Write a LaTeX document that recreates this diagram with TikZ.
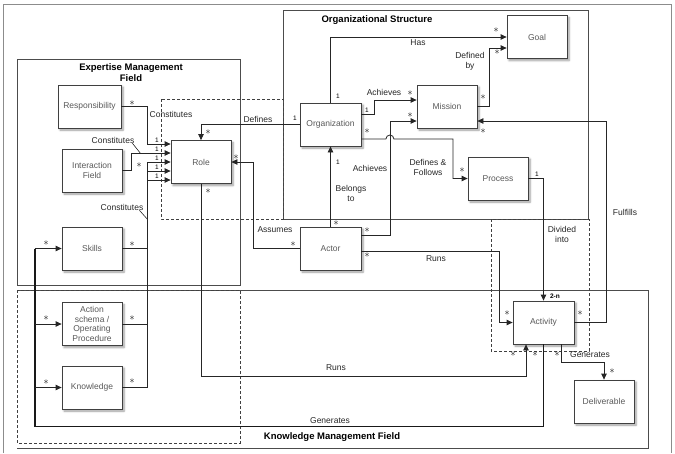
\documentclass[tikz,border=0pt]{standalone}
\usepackage{fontspec}
\setmainfont{Liberation Sans}
\usetikzlibrary{arrows.meta,shadows.blur}
\tikzset{
  entity/.style={draw=black!75, fill=white, line width=0.8pt, minimum width=60pt, minimum height=43pt,
    align=center, inner sep=1pt, text=black!65, font=\fontsize{8.5}{9.5}\selectfont,
    blur shadow={shadow xshift=2pt, shadow yshift=-2pt, shadow blur steps=6}},
  assoc/.style={draw=black!85, line width=0.8pt, -{Triangle[length=6pt,width=5.5pt]}},
  gen/.style={draw=black!90, line width=1.8pt},
  leader/.style={draw=black!85, line width=0.6pt},
  field/.style={draw=black!70, line width=0.9pt},
  group/.style={draw=black!75, line width=0.8pt, dash pattern=on 3pt off 2pt},
  lbl/.style={inner sep=0pt, align=center, text=black!85, font=\fontsize{8.5}{10}\selectfont},
  ttl/.style={inner sep=0pt, align=center, font=\bfseries\fontsize{9.5}{11}\selectfont},
  mult/.style={inner sep=0pt, font=\fontsize{10}{10}\selectfont},
  one/.style={inner sep=0pt, font=\fontsize{6.5}{6.5}\selectfont}
}
\begin{document}
\begin{tikzpicture}[x=1pt, y=-1pt]
\useasboundingbox (0,0) rectangle (675,453);
\draw[draw=black!45, line width=0.8pt] (3,453) -- (3,4) -- (671,4) -- (671,453);
\draw[field] (283,10) rectangle (588,219);
\draw[field] (17,59) rectangle (240,285);
\draw[field] (17,448) -- (648,448) -- (648,290) -- (17,290);
\draw[group] (161,99) rectangle (283,219);
\draw[group] (491,219) rectangle (589,351);
\draw[group] (17,290) rectangle (240,443);
\node[ttl] (torg) at (377,20) {Organizational Structure};
\node[ttl] (temf) at (131,72.5) {Expertise Management\\Field};
\node[ttl] (tkmf) at (332,437) {Knowledge Management Field};

\node[entity, minimum width=63pt] (resp) at (89.5,106.5) {Responsibility};
\node[entity] (inter) at (92,170.5) {Interaction\\Field};
\node[entity] (skills) at (92,248.5) {Skills};
\node[entity] (action) at (92,324) {Action\\schema /\\Operating\\Procedure};
\node[entity] (know) at (92,387.5) {Knowledge};
\node[entity] (role) at (201,162) {Role};
\node[entity, minimum width=61pt] (org) at (330.5,124.5) {Organization};
\node[entity, minimum width=61pt] (actor) at (330.5,248.5) {Actor};
\node[entity] (mission) at (447,106.5) {Mission};
\node[entity] (goal) at (537,37) {Goal};
\node[entity] (process) at (498,178.5) {Process};
\node[entity, minimum width=61pt] (activity) at (543.5,322.5) {Activity};
\node[entity] (deliv) at (604,401.5) {Deliverable};

\draw[assoc] (resp.east) -- ++(26,0) |- ([yshift=18pt]role.west);
\draw[assoc] (inter.east) -- ++(9,0) |- ([yshift=9pt]role.west);
\draw[assoc] (skills.east) -- ++(25,0) |- (role.west);
\draw[assoc] (action.east) -- ++(25,0) |- ([yshift=-9pt]role.west);
\draw[assoc] (know.east) -- ++(25,0) |- ([yshift=-18pt]role.west);
\draw[assoc] (org.west) -| (role.north);
\draw[assoc] (actor.west) -- ++(-46,0) |- (role.east);
\draw[assoc] (actor.north) -- (org.south);
\draw[assoc] ([yshift=13pt]actor.east) -- ++(29,0) |- ([yshift=-14.5pt]mission.west);
\draw[assoc] ([yshift=10.5pt]org.east) -- ++(13,0) |- ([yshift=6.5pt]mission.west);
\draw[assoc] (org.north) |- (goal.west);
\draw[assoc] (mission.east) -- ++(12,0) |- ([yshift=-11pt]goal.west);
\draw[assoc] ([yshift=-14.5pt]org.east) -- ++(24.5,0) arc[start angle=180, end angle=0, radius=4pt]
  -- ++(59,0) |- (process.west);
\draw[assoc] (process.east) -| (activity.north);
\draw[assoc] (activity.east) -- ++(32,0) |- ([yshift=-14.5pt]mission.east);
\draw[assoc] ([yshift=-2.5pt]actor.east) -- ++(137.5,0) |- (activity.west);
\draw[assoc] (role.south) -- ++(0,192) -| ([xshift=-17.5pt]activity.south);
\draw[gen] (activity.south) -- ++(0,82) -| ([xshift=-27pt]skills.west);
\draw[gen] ([xshift=-27pt]skills.west) -- ([xshift=-27pt]know.west);
\draw[assoc] ([xshift=-27pt]skills.west) -- (skills.west);
\draw[assoc] ([xshift=-27pt]action.west) -- (action.west);
\draw[assoc] ([xshift=-27pt]know.west) -- (know.west);
\draw[assoc] ([xshift=18pt]activity.south) -- ++(0,17.5) -| (deliv.north);

\node[lbl] (lcon1) at (171,114) {Constitutes};
\node[lbl] (lcon2) at (113,140) {Constitutes};
\node[lbl] (lcon3) at (122,207) {Constitutes};
\draw[leader] ([xshift=-2pt]lcon2.south east) -- ++(8,10);
\draw[leader] ([xshift=-4pt]lcon3.south east) -- ++(8,9);
\node[lbl] (ldef) at (258,119) {Defines};
\node[lbl] (lass) at (275,230) {Assumes};
\node[lbl] (lbel) at (351,193) {Belongs\\to};
\node[lbl] (lach1) at (370,168) {Achieves};
\node[lbl] (lach2) at (384,92) {Achieves};
\node[lbl] (lhas) at (418,43) {Has};
\node[lbl] (ldby) at (470,61) {Defined\\by};
\node[lbl] (ldf) at (428,167.5) {Defines \&\\Follows};
\node[lbl] (ldiv) at (562,234) {Divided\\into};
\node[lbl] (lful) at (625,212) {Fulfills};
\node[lbl] (lrun1) at (436,259) {Runs};
\node[lbl] (lrun2) at (336,368) {Runs};
\node[lbl] (lgen1) at (330,421) {Generates};
\node[lbl] (lgen2) at (590,355) {Generates};

\foreach \x/\y [count=\i] in {132/103, 139/165, 132/244, 132/318, 132/381, 208/132, 236/157, 208/191,
  293/244, 336/223, 367/230, 367/255, 367/131, 410/93, 410/115, 483/97, 483/131, 496/30, 497/52,
  462/170, 507/313, 580/313, 513/354, 535/354, 557/354, 612/371, 46/243, 46/318, 46/382}
  \node[mult] (st\i) at (\x,\y) {$\ast$};
\foreach \x/\y [count=\i] in {157/140, 157/149, 157/158, 157/167, 157/176, 295/118, 338/96,
  367/110, 338/162, 537/174}
  \node[one] (on\i) at (\x,\y) {1};
\node[one] (twon) at (555,296) {\bfseries 2-n};
\end{tikzpicture}
\end{document}
